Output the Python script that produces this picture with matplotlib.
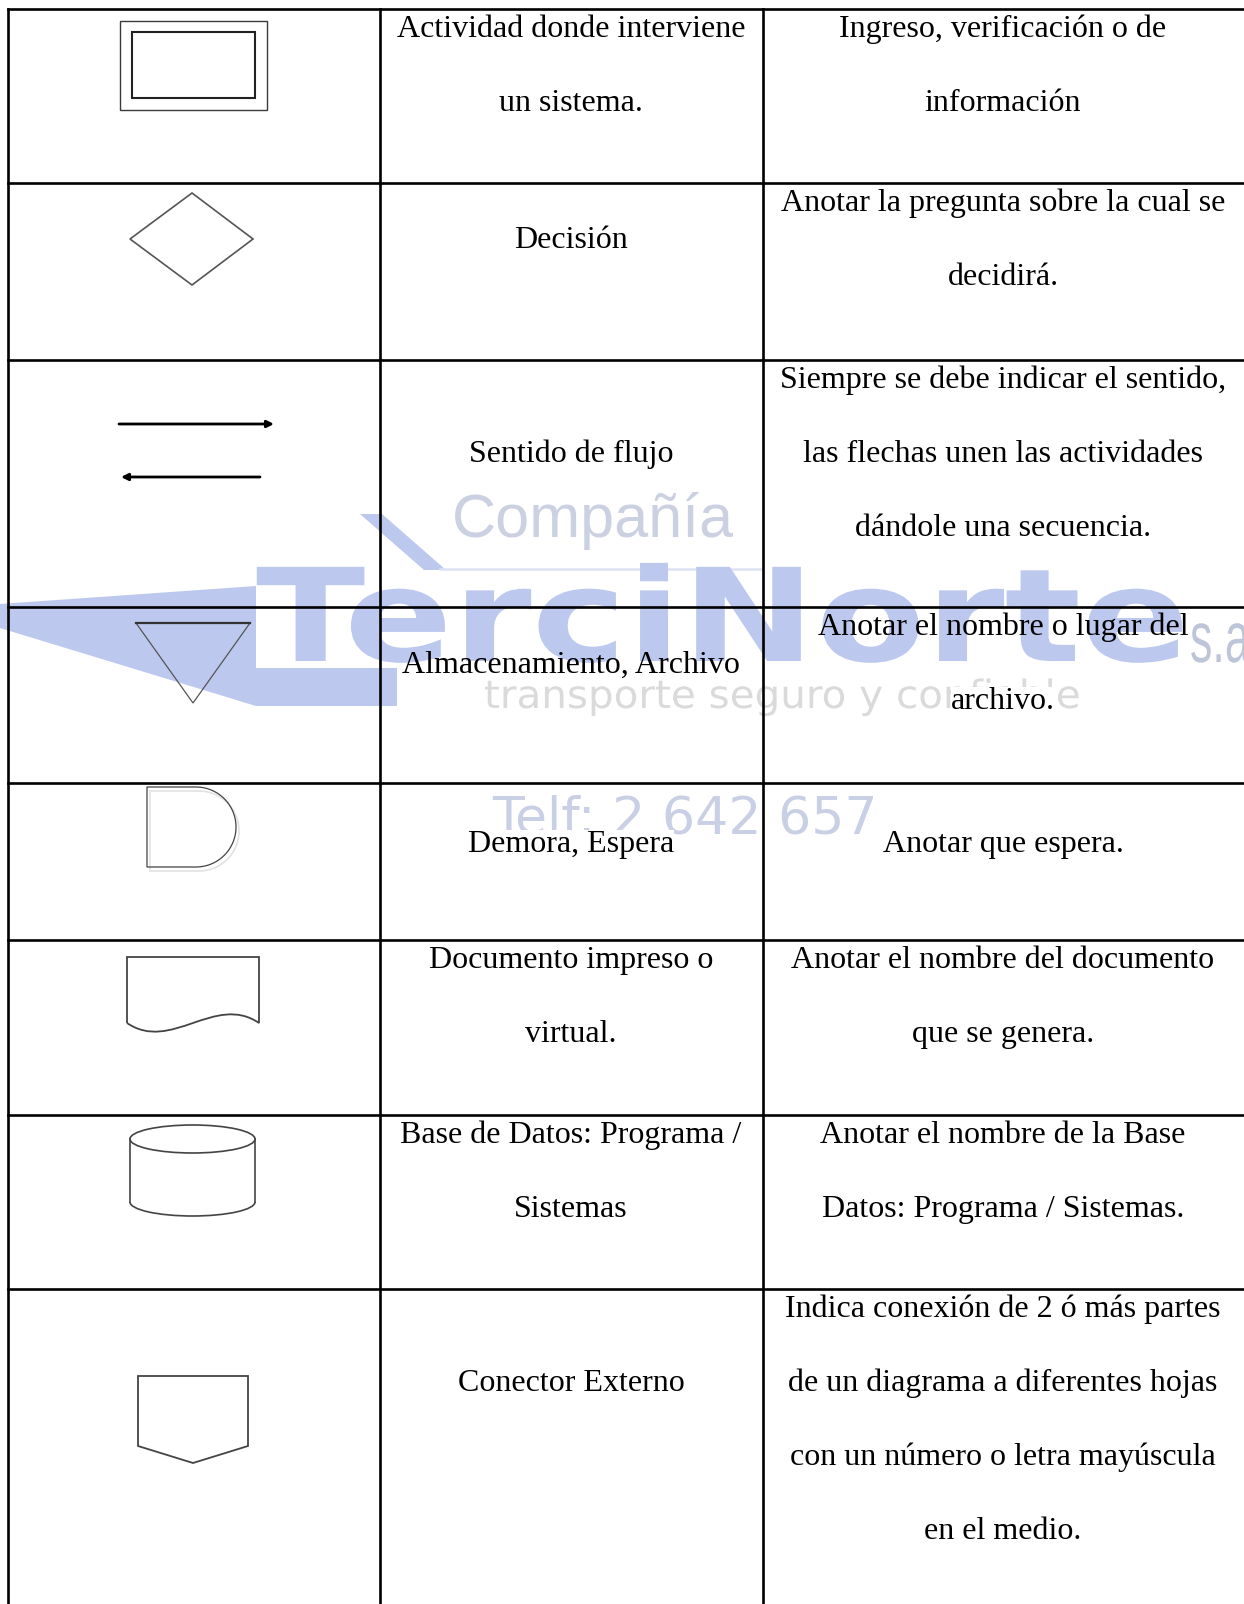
import numpy as np
import matplotlib
matplotlib.use("Agg")
import matplotlib.pyplot as plt
from matplotlib.patches import Polygon, Rectangle, Ellipse, Arc, PathPatch, FancyArrowPatch
from matplotlib.path import Path
from matplotlib.transforms import Affine2D
from matplotlib import patheffects

# ---- table content ----
simbolos = ["sistema", "decision", "flujo", "almacen", "demora", "documento", "base_datos", "conector"]
nombres = [
    ["Actividad donde interviene", "un sistema."],
    ["Decisión"],
    ["Sentido de flujo"],
    ["Almacenamiento, Archivo"],
    ["Demora, Espera"],
    ["Documento impreso o", "virtual."],
    ["Base de Datos: Programa /", "Sistemas"],
    ["Conector Externo"],
]
notas = [
    ["Ingreso, verificación o de", "información"],
    ["Anotar la pregunta sobre la cual se", "decidirá."],
    ["Siempre se debe indicar el sentido,", "las flechas unen las actividades", "dándole una secuencia."],
    ["Anotar el nombre o lugar del", "archivo."],
    ["Anotar que espera."],
    ["Anotar el nombre del documento", "que se genera."],
    ["Anotar el nombre de la Base", "Datos: Programa / Sistemas."],
    ["Indica conexión de 2 ó más partes", "de un diagrama a diferentes hojas",
     "con un número o letra mayúscula", "en el medio."],
]

# ---- layout (pixels, y grows downward) ----
W, H = 1244, 1604
row_edges = [9, 183, 360, 607, 783, 940, 1115, 1289, H]
col_edges = [8, 380, 763]
line_step = 74
col2_start = [28, 65, 102, 66, 69, 28, 28, 102]
col3_start = [28, 28, 28, 28, 69, 28, 28, 28]
col2_x, col3_x = 571, 1003


class Stretch(patheffects.AbstractPathEffect):
    """draw text glyphs scaled horizontally from their left start"""
    def __init__(self, sx):
        super().__init__()
        self.sx = sx

    def draw_path(self, renderer, gc, tpath, affine, rgbFace=None):
        renderer.draw_path(gc, tpath, Affine2D().scale(self.sx, 1) + affine, rgbFace)


fig = plt.figure(figsize=(W / 100, H / 100), dpi=100)
ax = fig.add_axes([0, 0, 1, 1])
ax.set_xlim(0, W)
ax.set_ylim(H, 0)
ax.axis("off")

# ---- watermark (company logo behind the table) ----
wm_blue = "#bcc8ed"
ax.add_patch(Polygon([(0, 604), (256, 586), (256, 668), (397, 668), (397, 706), (256, 706), (0, 628)],
                     closed=True, facecolor=wm_blue, edgecolor="none", zorder=0))
ax.add_patch(Polygon([(360, 514), (382, 514), (446, 570), (424, 570)],
                     closed=True, facecolor=wm_blue, edgecolor="none", zorder=0))
ax.plot([440, 760], [569, 569], color="#dde2f4", linewidth=1.8, zorder=0)
ax.text(256, 661, "TerciNorte", fontsize=93, fontweight="bold", family="DejaVu Sans",
        color=wm_blue, ha="left", va="baseline", zorder=0, path_effects=[Stretch(1.24)])
ax.text(1190, 662, "s.a.", fontsize=52, family="Liberation Sans", color="#bec5d9",
        ha="left", va="baseline", zorder=0, path_effects=[Stretch(0.62)])
ax.text(452, 537, "Compañía", fontsize=44, family="Liberation Sans", color="#cbd1e1",
        ha="left", va="baseline", zorder=0)
ax.text(484, 708, "transporte seguro y confiable", fontsize=28, family="DejaVu Sans",
        color="#dadada", ha="left", va="baseline", zorder=0, path_effects=[Stretch(1.04)])
ax.text(492, 833, "Telf: 2 642 657", fontsize=37.5, family="DejaVu Sans", color="#c9d0e5",
        ha="left", va="baseline", zorder=0)

# ---- table grid ----
lw = 1.9
h = ax.hlines(row_edges[:-1], col_edges[0], W, colors="black", linewidth=lw, zorder=3)
v = ax.vlines(col_edges, row_edges[0], H, colors="black", linewidth=lw, zorder=3)
h.set_capstyle("projecting")
v.set_capstyle("projecting")

# ---- texts ----
serif = dict(family="Liberation Serif", fontsize=23, color="black", va="baseline", ha="center", zorder=4)
tapa = dict(facecolor="white", edgecolor="none", pad=0)
for i in range(len(nombres)):
    top = row_edges[i]
    for k, linea in enumerate(nombres[i]):
        kw = dict(serif)
        if linea == "Demora, Espera":
            kw["bbox"] = tapa
        ax.text(col2_x, top + col2_start[i] + k * line_step, linea, **kw)
    for k, linea in enumerate(notas[i]):
        kw = dict(serif)
        if linea == "archivo.":
            kw["bbox"] = tapa
        ax.text(col3_x, top + col3_start[i] + k * line_step, linea, **kw)

# ---- symbols ----
dark = "#3a3a3a"
sym = dict(fill=False, zorder=4)

# 1 double rectangle
ax.add_patch(Rectangle((120, 21), 147, 89, edgecolor=dark, linewidth=1.0, **sym))
ax.add_patch(Rectangle((132, 32), 123, 66, edgecolor="#222222", linewidth=1.5, **sym))

# 2 diamond
ax.add_patch(Polygon([(130, 239), (192, 193), (253, 239), (192, 285)], closed=True,
                     edgecolor="#555555", linewidth=1.2, **sym))

# 3 flow arrows
for (x0, x1, y) in [(119, 274, 424), (260, 121, 477)]:
    ax.add_patch(FancyArrowPatch((x0, y), (x1, y), arrowstyle="-|>", mutation_scale=10,
                                 color="black", linewidth=2.0, zorder=4,
                                 shrinkA=0, shrinkB=0))

# 4 storage triangle
ax.add_patch(Polygon([(136, 623), (250, 623), (193, 703)], closed=True,
                     edgecolor="#555555", linewidth=0.9, **sym))
ax.plot([136, 250], [623, 623], color="#333333", linewidth=1.6, zorder=4)

# 5 delay
t = np.linspace(np.pi / 2, -np.pi / 2, 60)
for dx, dy, c, w in [(3, 4, "#e2e2e2", 1.2), (0, 0, "#444444", 0.9)]:
    xs = np.concatenate([[147], 196 + 40 * np.cos(t), [147]]) + dx
    ys = np.concatenate([[787], 827 - 40 * np.sin(t), [867]]) + dy
    ax.add_patch(Polygon(np.column_stack([xs, ys]), closed=True, edgecolor=c, linewidth=w, **sym))

# 6 document
doc = Path([(127, 1023), (127, 957), (259, 957), (259, 1023), (215, 993), (171, 1053), (127, 1023)],
           [Path.MOVETO, Path.LINETO, Path.LINETO, Path.LINETO, Path.CURVE4, Path.CURVE4, Path.CURVE4])
ax.add_patch(PathPatch(doc, edgecolor="#444444", linewidth=1.3, **sym))

# 7 database cylinder
ax.add_patch(Ellipse((192.5, 1139), 125, 28, edgecolor="#444444", linewidth=1.2, **sym))
ax.plot([130, 130], [1139, 1202], color="#444444", linewidth=1.2, zorder=4)
ax.plot([255, 255], [1139, 1202], color="#444444", linewidth=1.2, zorder=4)
ax.add_patch(Arc((192.5, 1202), 125, 28, theta1=0, theta2=180, edgecolor="#444444",
                 linewidth=1.2, zorder=4))

# 8 off-page connector
ax.add_patch(Polygon([(138, 1376), (248, 1376), (248, 1446), (193, 1463), (138, 1446)], closed=True,
                     edgecolor="#444444", linewidth=1.3, **sym))

fig.savefig("out.png", dpi=100)
